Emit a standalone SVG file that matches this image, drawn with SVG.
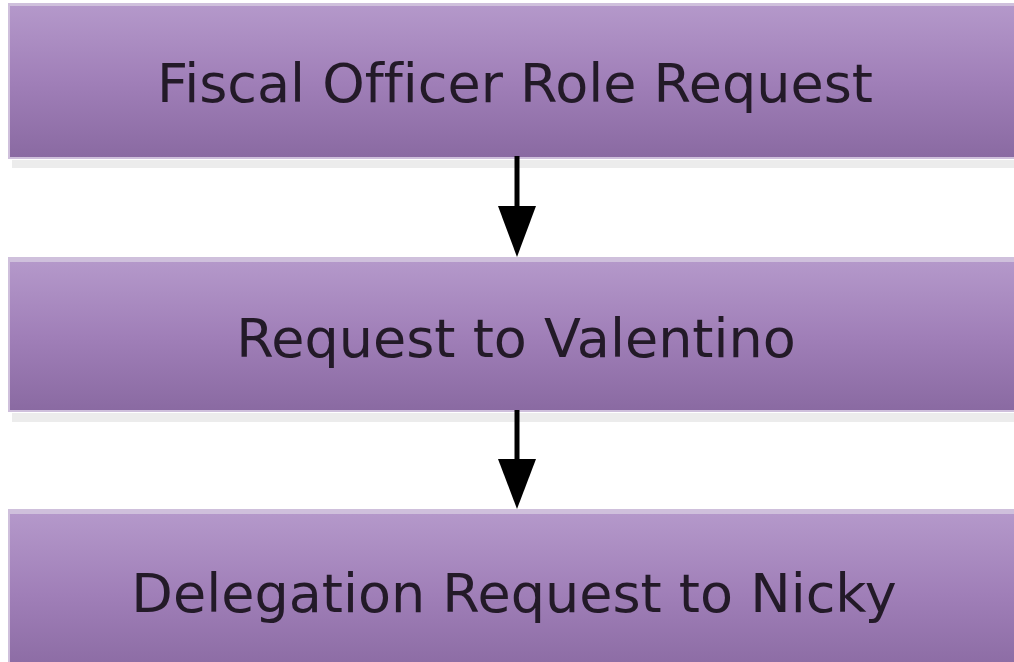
<svg xmlns="http://www.w3.org/2000/svg" width="1014" height="662" viewBox="0 0 1014 662">
<defs>
<linearGradient id="g" x1="0" y1="0" x2="0" y2="1">
<stop offset="0" stop-color="#b498ca"/>
<stop offset="0.5" stop-color="#a07fb8"/>
<stop offset="1" stop-color="#8a6aa2"/>
</linearGradient>
</defs>
<style>
.shadow{fill:#ececec}
.edge{fill:#cfc0dc}
.box{fill:url(#g)}
.lbl{font-family:"DejaVu Sans",Verdana,sans-serif;font-size:54px;fill:#231a28;text-anchor:middle;font-variant-ligatures:none}
.conn{stroke:#000;stroke-width:5;fill:none}
.head{fill:#000}
</style>
<rect width="1014" height="662" fill="#fff"/>
<g id="node1">
<rect class="shadow" x="12" y="160" width="1010" height="8"/>
<rect class="edge" x="8" y="3" width="1010" height="156"/>
<rect class="box" x="10" y="6" width="1010" height="151"/>
<text class="lbl" x="515" y="102">Fiscal Officer Role Request</text>
</g>
<g id="node2">
<rect class="shadow" x="12" y="413" width="1010" height="9"/>
<rect class="edge" x="8" y="257" width="1010" height="155"/>
<rect class="box" x="10" y="262" width="1010" height="148"/>
<text class="lbl" x="516" y="357">Request to Valentino</text>
</g>
<g id="node3">
<rect class="edge" x="8" y="509" width="1010" height="160"/>
<rect class="box" x="10" y="514" width="1010" height="160"/>
<text class="lbl" x="514" y="612">Delegation Request to Nicky</text>
</g>
<g id="connectors">
<line class="conn" x1="517" y1="156" x2="517" y2="208"/>
<path class="head" d="M498,206 L536,206 L517,257 z"/>
<line class="conn" x1="517" y1="410" x2="517" y2="462"/>
<path class="head" d="M498,459 L536,459 L517,509 z"/>
</g>
</svg>
